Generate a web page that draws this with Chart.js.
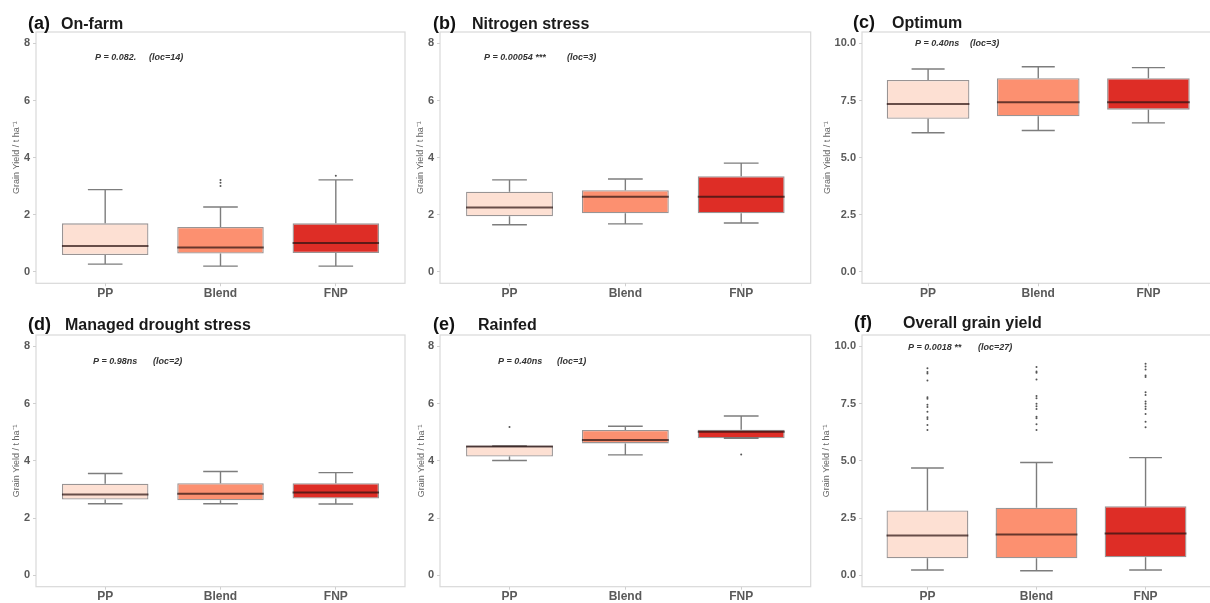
<!DOCTYPE html>
<html><head><meta charset="utf-8">
<script src="https://cdn.jsdelivr.net/npm/chart.js@4.4.1/dist/chart.umd.min.js"></script>
<style>
html,body{margin:0;padding:0;background:#fff;width:1210px;height:603px;overflow:hidden;position:relative}
canvas{position:absolute}
</style></head><body>
<script>
// ---------- data ----------
const categories = ['PP', 'Blend', 'FNP'];
const panelLetters = ['(a)', '(b)', '(c)', '(d)', '(e)', '(f)'];
const panelTitles = ['On-farm', 'Nitrogen stress', 'Optimum', 'Managed drought stress', 'Rainfed', 'Overall grain yield'];
const pLabels = ['P = 0.082.', 'P = 0.00054 ***', 'P = 0.40ns', 'P = 0.98ns', 'P = 0.40ns', 'P = 0.0018 **'];
const locLabels = ['(loc=14)', '(loc=3)', '(loc=3)', '(loc=2)', '(loc=1)', '(loc=27)'];
const yAxisTitle = 'Grain Yield / t ha\u207B\u00B9';
const yTicks8 = [0, 2, 4, 6, 8];
const yTickLabels8 = ['0', '2', '4', '6', '8'];
const yTicks10 = [0, 2.5, 5, 7.5, 10];
const yTickLabels10 = ['0.0', '2.5', '5.0', '7.5', '10.0'];

// (a) On-farm
const onFarmLow = [0.27, 0.20, 0.20];
const onFarmQ1 = [0.59, 0.64, 0.66];
const onFarmMedian = [0.91, 0.85, 1.01];
const onFarmQ3 = [1.70, 1.57, 1.70];
const onFarmHigh = [2.88, 2.27, 3.22];
const onFarmOutliers = [[], [3.01, 3.12, 3.22], [3.37]];
// (b) Nitrogen stress
const nStressLow = [1.65, 1.68, 1.71];
const nStressQ1 = [1.95, 2.05, 2.05];
const nStressMedian = [2.25, 2.63, 2.63];
const nStressQ3 = [2.81, 2.86, 3.35];
const nStressHigh = [3.22, 3.25, 3.81];
const nStressOutliers = [[], [], []];
// (c) Optimum
const optimumLow = [6.09, 6.19, 6.52];
const optimumQ1 = [6.70, 6.81, 7.10];
const optimumMedian = [7.35, 7.43, 7.43];
const optimumQ3 = [8.40, 8.48, 8.48];
const optimumHigh = [8.88, 8.98, 8.94];
const optimumOutliers = [[], [], []];
// (d) Managed drought stress
const droughtLow = [2.50, 2.50, 2.49];
const droughtQ1 = [2.65, 2.62, 2.68];
const droughtMedian = [2.82, 2.85, 2.89];
const droughtQ3 = [3.20, 3.22, 3.22];
const droughtHigh = [3.56, 3.63, 3.59];
const droughtOutliers = [[], [], []];
// (e) Rainfed
const rainfedLow = [4.01, 4.21, 4.79];
const rainfedQ1 = [4.15, 4.61, 4.79];
const rainfedMedian = [4.50, 4.73, 5.02];
const rainfedQ3 = [4.52, 5.08, 5.09];
const rainfedHigh = [4.52, 5.21, 5.57];
const rainfedOutliers = [[5.18], [], [4.22]];
// (f) Overall grain yield
const overallLow = [0.23, 0.20, 0.23];
const overallQ1 = [0.74, 0.74, 0.79];
const overallMedian = [1.74, 1.78, 1.82];
const overallQ3 = [2.83, 2.95, 3.02];
const overallHigh = [4.69, 4.93, 5.14];
const overallOutliersPP = [9.05, 8.88, 8.82, 8.51, 7.78, 7.71, 7.45, 7.35, 7.15, 6.91, 6.83, 6.57, 6.35];
const overallOutliersBlend = [9.10, 8.91, 8.85, 8.55, 7.83, 7.74, 7.49, 7.39, 7.27, 6.93, 6.86, 6.60, 6.35];
const overallOutliersFNP = [9.24, 9.12, 8.99, 8.73, 8.66, 8.00, 7.88, 7.59, 7.49, 7.37, 7.27, 7.05, 6.71, 6.47];
const overallOutliers = [overallOutliersPP, overallOutliersBlend, overallOutliersFNP];

// ---------- styles / layout ----------
const fillColors = ['#FDE0D3', '#FC9070', '#DE2D26'];
const FONT = '"Liberation Sans", Arial, sans-serif';

const panelStats = [
  {low: onFarmLow, q1: onFarmQ1, med: onFarmMedian, q3: onFarmQ3, high: onFarmHigh, out: onFarmOutliers},
  {low: nStressLow, q1: nStressQ1, med: nStressMedian, q3: nStressQ3, high: nStressHigh, out: nStressOutliers},
  {low: optimumLow, q1: optimumQ1, med: optimumMedian, q3: optimumQ3, high: optimumHigh, out: optimumOutliers},
  {low: droughtLow, q1: droughtQ1, med: droughtMedian, q3: droughtQ3, high: droughtHigh, out: droughtOutliers},
  {low: rainfedLow, q1: rainfedQ1, med: rainfedMedian, q3: rainfedQ3, high: rainfedHigh, out: rainfedOutliers},
  {low: overallLow, q1: overallQ1, med: overallMedian, q3: overallQ3, high: overallHigh, out: overallOutliers}
];

const panelLayout = [
  {x: 0,   y: 0,   w: 410, h: 300, ca: [36, 32, 405, 283.3],   yRange: [-0.4, 8.4],  big: false, letter: [28, 29], name: [61, 29], notes: [[95, 58], [149, 58]],  yPad: 11},
  {x: 410, y: 0,   w: 405, h: 300, ca: [30, 32, 400.7, 283.3], yRange: [-0.4, 8.4],  big: false, letter: [23, 29], name: [62, 29], notes: [[74, 58], [157, 58]],  yPad: 5.6},
  {x: 815, y: 0,   w: 400, h: 300, ca: [47, 32, 399.5, 283.3], yRange: [-0.5, 10.5], big: true,  letter: [38, 28], name: [77, 28], notes: [[100, 44], [155, 44]], yPad: 7},
  {x: 0,   y: 300, w: 410, h: 303, ca: [36, 35, 405, 286.7],   yRange: [-0.4, 8.4],  big: false, letter: [28, 30], name: [65, 30], notes: [[93, 62], [153, 62]],  yPad: 11},
  {x: 410, y: 300, w: 405, h: 303, ca: [30, 35, 400.7, 286.7], yRange: [-0.4, 8.4],  big: false, letter: [23, 30], name: [68, 30], notes: [[88, 62], [147, 62]],  yPad: 6},
  {x: 815, y: 300, w: 400, h: 303, ca: [47, 35, 399.5, 286.7], yRange: [-0.5, 10.5], big: true,  letter: [39, 28], name: [88, 28], notes: [[93, 48], [163, 48]],  yPad: 6}
];

function makeExtras(idx, S, L) {
  const BOX_HALF = 0.375, CAP_HALF = 0.15;
  return {
    id: 'boxExtras' + idx,
    beforeDraw(chart) {
      const {ctx, chartArea: a} = chart;
      ctx.save();
      ctx.strokeStyle = '#d9d9d9';
      ctx.lineWidth = 1.2;
      ctx.strokeRect(a.left, a.top, a.right - a.left, a.bottom - a.top);
      ctx.restore();
    },
    beforeDatasetsDraw(chart) {
      const {ctx} = chart;
      const xs = chart.scales.x, ys = chart.scales.y;
      ctx.save();
      ctx.strokeStyle = '#7d7d7d';
      ctx.lineWidth = 1.4;
      categories.forEach((c, i) => {
        const v = i + 1;
        const cx = xs.getPixelForValue(v);
        ctx.beginPath();
        ctx.moveTo(cx, ys.getPixelForValue(S.low[i]));
        ctx.lineTo(cx, ys.getPixelForValue(S.q1[i]));
        ctx.moveTo(cx, ys.getPixelForValue(S.q3[i]));
        ctx.lineTo(cx, ys.getPixelForValue(S.high[i]));
        const l = xs.getPixelForValue(v - CAP_HALF), r = xs.getPixelForValue(v + CAP_HALF);
        const yl = ys.getPixelForValue(S.low[i]), yh = ys.getPixelForValue(S.high[i]);
        ctx.moveTo(l, yl); ctx.lineTo(r, yl);
        ctx.moveTo(l, yh); ctx.lineTo(r, yh);
        ctx.stroke();
      });
      ctx.restore();
    },
    afterDatasetsDraw(chart) {
      const {ctx} = chart;
      const xs = chart.scales.x, ys = chart.scales.y;
      ctx.save();
      ctx.strokeStyle = 'rgba(45,20,18,0.72)';
      ctx.lineWidth = 2;
      categories.forEach((c, i) => {
        const v = i + 1;
        const y = ys.getPixelForValue(S.med[i]);
        ctx.beginPath();
        ctx.moveTo(xs.getPixelForValue(v - BOX_HALF), y);
        ctx.lineTo(xs.getPixelForValue(v + BOX_HALF), y);
        ctx.stroke();
      });
      ctx.restore();
    },
    afterDraw(chart) {
      const {ctx} = chart;
      ctx.save();
      ctx.fillStyle = '#111';
      ctx.textBaseline = 'alphabetic';
      ctx.textAlign = 'left';
      ctx.font = 'bold 18px ' + FONT;
      ctx.fillText(panelLetters[idx], L.letter[0], L.letter[1]);
      ctx.font = 'bold 16px ' + FONT;
      ctx.fillStyle = '#1a1a1a';
      ctx.fillText(panelTitles[idx], L.name[0], L.name[1]);
      ctx.font = 'italic bold 9px ' + FONT;
      ctx.fillStyle = '#333';
      ctx.textBaseline = 'middle';
      ctx.fillText(pLabels[idx], L.notes[0][0], L.notes[0][1]);
      ctx.fillText(locLabels[idx], L.notes[1][0], L.notes[1][1]);
      ctx.restore();
    }
  };
}

panelStats.forEach((S, idx) => {
  const L = panelLayout[idx];
  const cv = document.createElement('canvas');
  cv.width = L.w; cv.height = L.h;
  cv.style.left = L.x + 'px'; cv.style.top = L.y + 'px';
  cv.style.width = L.w + 'px'; cv.style.height = L.h + 'px';
  document.body.appendChild(cv);

  const tickVals = L.big ? yTicks10 : yTicks8;
  const tickLabels = L.big ? yTickLabels10 : yTickLabels8;
  const outlierPts = [];
  S.out.forEach((arr, i) => arr.forEach(v => outlierPts.push({x: i + 1, y: v})));

  new Chart(cv, {
    type: 'bar',
    data: {
      datasets: [
        {
          type: 'bar',
          data: categories.map((c, i) => ({x: i + 1, y: [S.q1[i], S.q3[i]]})),
          backgroundColor: fillColors,
          borderColor: 'rgba(70,60,60,0.55)',
          borderWidth: 1.3,
          borderSkipped: false,
          categoryPercentage: 1,
          barPercentage: 0.75,
          order: 2
        },
        {
          type: 'scatter',
          data: outlierPts,
          pointRadius: 1,
          pointBackgroundColor: '#555555',
          pointBorderWidth: 0,
          order: 1
        }
      ]
    },
    options: {
      responsive: false,
      animation: false,
      events: [],
      layout: {padding: {top: L.ca[1], left: 0, right: L.w - L.ca[2], bottom: 0}},
      plugins: {legend: {display: false}, tooltip: {enabled: false}, title: {display: false}},
      scales: {
        x: {
          type: 'linear',
          min: 0.4, max: 3.6,
          offset: false,
          afterBuildTicks: (ax) => { ax.ticks = categories.map((c, i) => ({value: i + 1})); },
          afterFit: (ax) => { ax.height = L.h - L.ca[3]; },
          grid: {display: true, drawOnChartArea: false, drawTicks: true, tickLength: 3, color: '#cfcfcf', offset: false},
          border: {display: false},
          ticks: {
            padding: 0,
            maxRotation: 0,
            autoSkip: false,
            color: '#5a5a5a',
            font: {family: FONT, size: 12, weight: 'bold'},
            callback: (v, i) => categories[i]
          }
        },
        y: {
          type: 'linear',
          min: L.yRange[0], max: L.yRange[1],
          afterBuildTicks: (ax) => { ax.ticks = tickVals.map(v => ({value: v})); },
          afterFit: (ax) => { ax.width = L.ca[0]; },
          grid: {display: true, drawOnChartArea: false, drawTicks: true, tickLength: 3, color: '#cfcfcf'},
          border: {display: false},
          ticks: {
            padding: 3,
            autoSkip: false,
            color: '#5a5a5a',
            font: {family: FONT, size: 11, weight: 'bold'},
            callback: (v, i) => tickLabels[i]
          },
          title: {
            display: true,
            text: yAxisTitle,
            color: '#666',
            font: {family: FONT, size: 9},
            padding: {top: L.yPad, bottom: 0}
          }
        }
      }
    },
    plugins: [makeExtras(idx, S, L)]
  });
});
</script>
</body></html>
